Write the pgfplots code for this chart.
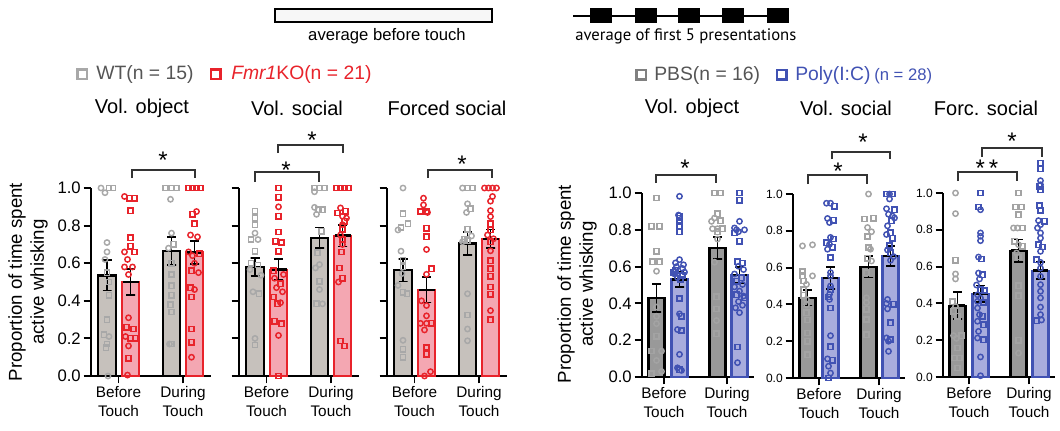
\documentclass[border=0pt]{standalone}
\usepackage{pgfplots}
\pgfplotsset{compat=1.18}
\usepackage{fontspec}
\setmainfont{Liberation Sans}
\newfontfamily\ptsans{PT Sans}
\definecolor{wtpt}{HTML}{A8A8A8}
\definecolor{wtbar}{HTML}{C6C1BC}
\definecolor{kored}{HTML}{E8232B}
\definecolor{kobar}{HTML}{F4A7B2}
\definecolor{pbsbar}{HTML}{999999}
\definecolor{pbspt}{HTML}{A3A3A3}
\definecolor{polyb}{HTML}{4152B3}
\definecolor{polybar}{HTML}{A8ACDD}
\definecolor{legtxt}{HTML}{555555}
\pgfplotsset{
 panel/.style={scale only axis, anchor=south west, ymin=0, ymax=1, xmin=0, clip=false, enlargelimits=false,
   axis x line=bottom, axis y line=left, axis line style={-, line width=1.4pt},
   tick style={line width=1.4pt, black}, tick align=outside, major tick length=5.5pt,
   ytick={0,0.2,0.4,0.6,0.8,1}, yticklabels={0.0,0.2,0.4,0.6,0.8,1.0},
   xticklabels={{Before\\Touch},{During\\Touch}},
   x tick label style={align=center, font=\fontsize{11.5}{14.5}\selectfont, inner sep=2pt},
   y tick label style={font=\fontsize{12.5}{14}\selectfont, inner sep=2pt}},
 lp/.style={panel, width=90pt, height=141pt, xmax=120, xtick={27.5,92}},
 rp/.style={panel, width=84pt, height=138pt, xmax=112, xtick={26,86}},
 barG/.style={ybar, bar shift=0pt, bar width=17.5, fill=wtbar, draw=black, line width=1.6pt},
 barR/.style={ybar, bar shift=0pt, bar width=17.5, fill=kobar, draw=kored, line width=1.6pt},
 barP/.style={ybar, bar shift=0pt, bar width=16, fill=pbsbar, draw=black, line width=1.6pt},
 barB/.style={ybar, bar shift=0pt, bar width=16, fill=polybar, draw=polyb, line width=1.6pt},
 pts/.style={scatter, only marks, scatter src=explicit symbolic, mark size=2pt, line width=1.1pt,
   scatter/classes={s={mark=square, draw=#1}, c={mark=o, draw=#1}}},
}
% error bar + mean line: x, mean, sem, half-width of mean line
\newcommand\eb[4]{%
 \pgfmathsetmacro\xa{#1-4.5}\pgfmathsetmacro\xb{#1+4.5}%
 \pgfmathsetmacro\lo{#2-#3}\pgfmathsetmacro\hi{#2+#3}%
 \pgfmathsetmacro\ma{#1-#4}\pgfmathsetmacro\mb{#1+#4}%
 \addplot[black, line width=1.4pt, mark=none, forget plot] coordinates {(\xa,\lo) (\xb,\lo) (#1,\lo) (#1,\hi) (\xa,\hi) (\xb,\hi)};
 \addplot[black, line width=1.8pt, mark=none, forget plot] coordinates {(\ma,#2) (\mb,#2)};
}
\begin{document}
\begin{tikzpicture}
\begin{scope}[x=0.75pt,y=-0.75pt]
\path[use as bounding box] (0,0) rectangle (1060,430);
\end{scope}

% ---------------- Panel 1 ----------------
\begin{axis}[lp, at={(91*0.75pt,-376*0.75pt)}]
\addplot[barG] coordinates {(16,0.535) (80.5,0.666)};
\addplot[barR] coordinates {(39.5,0.50) (103.5,0.657)};
\addplot[pts=wtpt] table[x expr=\thisrow{o}+16, y=y, meta=m] {
o y m
-6 1.0 c
-2 0.975 c
2 1.0 s
6 1.0 s
0 0.71 c
0 0.66 c
-2 0.62 c
0 0.55 s
2 0.50 s
2 0.43 s
0 0.30 s
-3 0.22 s
2 0.21 c
0 0.17 s
-1 0.15 s
1 0.0 c
};
\addplot[pts=kored] table[x expr=\thisrow{o}+39.5, y=y, meta=m] {
o y m
-6 0.955 c
-1 0.945 s
4 0.945 s
0 0.88 s
0 0.735 s
0 0.69 s
-6 0.66 c
4 0.66 s
-3 0.62 c
-6 0.58 c
2 0.58 c
-2 0.54 c
-2 0.31 c
-4 0.26 s
3 0.25 s
-5 0.21 c
0 0.20 s
5 0.20 s
-2 0.16 c
-2 0.094 s
-3 0.005 c
};
\addplot[pts=wtpt] table[x expr=\thisrow{o}+80.5, y=y, meta=m] {
o y m
-6 1.0 s
0 1.0 s
5 1.0 s
-1 0.94 c
0 0.76 c
2 0.70 s
-3 0.68 c
0 0.60 s
0 0.54 s
0 0.48 s
0 0.43 s
-1 0.38 s
0 0.34 s
-2 0.17 c
0 0.17 s
};
\addplot[pts=kored] table[x expr=\thisrow{o}+103.5, y=y, meta=m] {
o y m
-6 1.0 s
-2 1.0 s
2 1.0 s
6 1.0 s
2 0.875 c
-2 0.86 s
0 0.81 s
-4 0.75 c
3 0.74 c
-6 0.66 c
5 0.65 s
-2 0.64 c
0 0.60 c
-3 0.56 s
4 0.55 c
-4 0.47 s
0 0.46 c
-3 0.42 s
-3 0.25 s
-3 0.18 s
-3 0.10 c
};
\eb{16}{0.535}{0.08}{8}
\eb{39.5}{0.50}{0.07}{8}
\eb{80.5}{0.666}{0.074}{8}
\eb{103.5}{0.657}{0.06}{8}
\end{axis}

% ---------------- Panel 2 ----------------
\begin{axis}[lp, at={(239*0.75pt,-376*0.75pt)}, yticklabels={}]
\addplot[barG] coordinates {(16,0.579) (80.5,0.735)};
\addplot[barR] coordinates {(39.5,0.566) (103.5,0.747)};
\addplot[pts=wtpt] table[x expr=\thisrow{o}+16, y=y, meta=m] {
o y m
0 0.876 s
0 0.84 s
0 0.805 s
0 0.76 c
-4 0.726 s
3 0.726 c
0 0.664 s
-4 0.60 s
3 0.59 s
-5 0.566 c
6 0.536 c
-2 0.448 c
4 0.437 s
0 0.20 c
0 0.165 s
};
\addplot[pts=kored] table[x expr=\thisrow{o}+39.5, y=y, meta=m] {
o y m
0 1.0 s
0 0.95 s
0 0.90 c
0 0.85 s
0 0.766 s
-3 0.717 s
3 0.71 s
0 0.664 s
-5 0.56 s
5 0.54 c
-4 0.52 c
2 0.49 s
-2 0.47 c
4 0.448 c
-5 0.42 s
2 0.39 c
-1 0.384 s
-4 0.292 s
3 0.278 s
0 0.216 c
0 0.0 s
};
\addplot[pts=wtpt] table[x expr=\thisrow{o}+80.5, y=y, meta=m] {
o y m
-5 1.0 s
0 1.0 s
5 1.0 s
-5 0.98 c
-5 0.897 c
-1 0.885 s
3 0.885 s
-3 0.86 c
2 0.77 s
-2 0.655 s
0 0.593 c
-4 0.575 c
0 0.504 s
0 0.46 c
-3 0.384 s
3 0.384 c
};
\addplot[pts=kored] table[x expr=\thisrow{o}+103.5, y=y, meta=m] {
o y m
-6 1.0 s
-2 1.0 s
2 1.0 s
6 1.0 s
-2 0.894 c
3 0.876 s
-5 0.867 s
0 0.85 c
4 0.84 c
2 0.823 s
0 0.805 c
0 0.78 s
-2 0.75 c
0 0.726 s
0 0.70 c
-1 0.66 s
-3 0.575 s
0 0.52 s
-4 0.50 c
-2 0.186 s
2 0.16 s
};
\eb{16}{0.579}{0.047}{8}
\eb{39.5}{0.566}{0.057}{8}
\eb{80.5}{0.735}{0.055}{8}
\eb{103.5}{0.747}{0.058}{8}
\end{axis}

% ---------------- Panel 3 ----------------
\begin{axis}[lp, at={(387*0.75pt,-376*0.75pt)}, yticklabels={}]
\addplot[barG] coordinates {(16,0.5625) (80.5,0.705)};
\addplot[barR] coordinates {(39.5,0.459) (103.5,0.729)};
\addplot[pts=wtpt] table[x expr=\thisrow{o}+16, y=y, meta=m] {
o y m
0 1.0 c
0 0.863 s
5 0.81 s
-2 0.79 s
-5 0.777 c
-2 0.664 c
0 0.616 s
0 0.58 s
-1 0.545 c
-5 0.482 c
0 0.446 s
4 0.437 s
0 0.19 c
0 0.143 s
0 0.10 s
};
\addplot[pts=kored] table[x expr=\thisrow{o}+39.5, y=y, meta=m] {
o y m
-3 0.946 c
-3 0.91 c
-6 0.875 s
0 0.875 s
1 0.87 c
0 0.786 s
0 0.74 s
0 0.673 c
5 0.571 s
0 0.541 c
-5 0.40 c
0 0.375 c
0 0.32 c
-6 0.28 c
0 0.28 c
5 0.28 s
-2 0.245 c
0 0.152 s
0 0.116 s
4 0.023 c
-2 0.0 c
};
\addplot[pts=wtpt] table[x expr=\thisrow{o}+80.5, y=y, meta=m] {
o y m
-5 1.0 c
0 1.0 s
5 1.0 s
0 0.916 c
3 0.89 s
-1 0.87 c
0 0.78 s
4 0.745 c
-3 0.727 s
0 0.72 s
-5 0.714 c
0 0.4375 c
0 0.325 s
0 0.25 c
0 0.1875 c
};
\addplot[pts=kored] table[x expr=\thisrow{o}+103.5, y=y, meta=m] {
o y m
-6 1.0 c
-2 1.0 c
2 1.0 c
6 1.0 c
2 0.955 c
0 0.93 c
0 0.88 c
0 0.848 c
0 0.81 s
0 0.777 s
-3 0.75 c
3 0.73 c
0 0.714 s
0 0.666 c
0 0.6125 s
0 0.57 s
0 0.53 s
0 0.473 s
0 0.434 s
0 0.348 c
0 0.30 s
};
\eb{16}{0.5625}{0.06}{8}
\eb{39.5}{0.459}{0.068}{8}
\eb{80.5}{0.705}{0.06}{8}
\eb{103.5}{0.729}{0.05}{8}
\end{axis}

% ---------------- Panel 4 ----------------
\begin{axis}[rp, at={(642*0.75pt,-377*0.75pt)}, xtick={22,85}]
\addplot[barP] coordinates {(14.5,0.43) (75.5,0.70)};
\addplot[barB] coordinates {(37.5,0.53) (97.5,0.553)};
\addplot[pts=pbspt] table[x expr=\thisrow{o}+14.5, y=y, meta=m] {
o y m
0 0.973 s
-5 0.82 s
3 0.82 s
0 0.684 s
-4 0.626 s
3 0.626 s
0 0.575 c
0 0.38 c
0 0.33 c
0 0.29 c
0 0.222 s
-5 0.141 s
5 0.141 c
0 0.09 c
5 0.03 c
-5 0.018 s
};
\addplot[pts=polyb] table[x expr=\thisrow{o}+37.5, y=y, meta=m] {
o y m
0 0.982 c
-1 0.88 c
0 0.873 s
0 0.864 s
0 0.846 s
0 0.823 s
0 0.79 s
0 0.638 c
-4 0.62 c
4 0.61 c
-3 0.60 c
3 0.59 c
-4 0.58 s
5 0.57 c
-6 0.57 s
-5 0.56 c
3 0.55 s
-2 0.54 c
1 0.53 s
0 0.427 s
0 0.343 c
2 0.33 s
-2 0.258 c
2 0.253 s
0 0.123 c
-2 0.05 c
0 0.04 s
2 0.036 c
};
\addplot[pts=pbspt] table[x expr=\thisrow{o}+75.5, y=y, meta=m] {
o y m
-3 1.0 s
3 1.0 s
0 0.888 s
-3 0.864 c
3 0.85 s
-6 0.846 c
-5 0.806 c
0 0.806 c
5 0.806 s
0 0.79 s
0 0.75 c
-3 0.624 c
-1 0.436 s
-1 0.37 s
-1 0.307 c
-1 0.235 s
};
\addplot[pts=polyb] table[x expr=\thisrow{o}+97.5, y=y, meta=m] {
o y m
0 1.0 s
0 0.96 s
0 0.846 c
-5 0.81 c
5 0.80 c
-3 0.80 c
-1 0.79 c
-5 0.783 s
0 0.738 s
-2 0.626 s
3 0.62 s
-1 0.602 c
4 0.584 c
-5 0.56 c
2 0.539 s
-3 0.52 s
3 0.503 c
-5 0.49 c
0 0.467 c
-3 0.448 s
4 0.44 c
5 0.43 s
-1 0.41 c
3 0.39 c
-4 0.376 c
0 0.35 c
-2 0.163 s
-2 0.078 c
};
\eb{14.5}{0.43}{0.077}{7.5}
\eb{37.5}{0.53}{0.043}{7.5}
\eb{75.5}{0.70}{0.06}{7.5}
\eb{97.5}{0.553}{0.044}{7.5}
\end{axis}

% ---------------- Panel 5 ----------------
\begin{axis}[rp, at={(793*0.75pt,-378*0.75pt)}, y tick label style={font=\fontsize{9}{10}\selectfont}]
\addplot[barP] coordinates {(14.5,0.436) (75.5,0.604)};
\addplot[barB] coordinates {(37.5,0.542) (97.5,0.664)};
\addplot[pts=pbspt] table[x expr=\thisrow{o}+14.5, y=y, meta=m] {
o y m
-5 0.718 c
5 0.724 c
-5 0.578 s
-5 0.555 s
5 0.555 c
-4 0.527 s
-1 0.509 c
-4 0.48 s
-4 0.45 s
-1 0.427 c
-1 0.398 c
-1 0.354 s
0 0.315 s
0 0.245 s
0 0.20 s
0 0.127 s
};
\addplot[pts=polyb] table[x expr=\thisrow{o}+37.5, y=y, meta=m] {
o y m
-4 0.95 c
0 0.95 c
4 0.933 s
-3 0.867 c
3 0.858 s
-1 0.845 c
0 0.764 c
3 0.755 s
-4 0.736 s
-1 0.727 c
2 0.71 s
-3 0.70 c
0 0.655 s
0 0.573 c
0 0.555 c
0 0.50 c
0 0.48 s
-1 0.455 c
-2 0.44 s
-1 0.427 c
0 0.38 s
0 0.23 c
0 0.17 s
-3 0.104 c
2 0.096 s
-2 0.064 c
0 0.027 c
-2 0.0 s
};
\addplot[pts=pbspt] table[x expr=\thisrow{o}+75.5, y=y, meta=m] {
o y m
0 1.0 c
-4 0.864 s
5 0.869 s
-1 0.818 c
3 0.795 c
-1 0.769 s
0 0.709 s
2 0.70 c
-1 0.65 s
3 0.636 c
-2 0.573 s
-2 0.436 c
-2 0.41 c
-2 0.373 s
-2 0.318 s
-2 0.236 s
};
\addplot[pts=polyb] table[x expr=\thisrow{o}+97.5, y=y, meta=m] {
o y m
-4 1.0 s
2 1.0 s
-1 1.0 c
-1 0.973 c
-4 0.92 c
4 0.915 s
-2 0.89 c
2 0.88 c
4 0.87 c
1 0.855 s
-3 0.827 c
0 0.79 s
-4 0.78 c
2 0.76 s
-1 0.72 s
-3 0.696 c
0 0.68 s
3 0.66 c
0 0.64 c
-3 0.427 c
-4 0.405 c
3 0.40 s
-3 0.376 c
0 0.30 s
-4 0.218 c
0 0.209 s
-2 0.20 c
-2 0.145 c
};
\eb{14.5}{0.436}{0.042}{7.5}
\eb{37.5}{0.542}{0.06}{7.5}
\eb{75.5}{0.604}{0.058}{7.5}
\eb{97.5}{0.664}{0.053}{7.5}
\end{axis}

% ---------------- Panel 6 ----------------
\begin{axis}[rp, at={(943*0.75pt,-377*0.75pt)}, y tick label style={font=\fontsize{9}{10}\selectfont}]
\addplot[barP] coordinates {(14.5,0.388) (75.5,0.687)};
\addplot[barB] coordinates {(37.5,0.453) (97.5,0.578)};
\addplot[pts=pbspt] table[x expr=\thisrow{o}+14.5, y=y, meta=m] {
o y m
-2 1.0 c
-2 0.888 c
-2 0.634 s
-2 0.56 c
-2 0.533 c
-5 0.41 s
-2 0.384 c
-4 0.357 s
0 0.33 s
-4 0.225 c
4 0.225 s
-1 0.21 c
0 0.158 s
-3 0.103 s
2 0.103 s
0 0.049 s
};
\addplot[pts=polyb] table[x expr=\thisrow{o}+37.5, y=y, meta=m] {
o y m
0 1.0 s
-2 0.924 s
0 0.909 c
0 0.783 c
0 0.765 c
0 0.741 c
-2 0.652 c
1 0.641 s
-2 0.565 c
2 0.556 s
-1 0.533 c
-4 0.50 c
0 0.475 s
4 0.47 s
-3 0.447 c
0 0.429 c
-3 0.411 c
3 0.405 s
-3 0.375 c
-1 0.339 c
2 0.33 s
-3 0.303 c
3 0.284 s
-2 0.248 c
-3 0.212 c
3 0.203 s
0 0.109 c
0 0.007 c
};
\addplot[pts=pbspt] table[x expr=\thisrow{o}+75.5, y=y, meta=m] {
o y m
0 1.0 s
-3 0.924 s
3 0.924 s
0 0.882 s
-5 0.81 c
-1 0.81 c
4 0.81 s
-4 0.737 s
0 0.719 c
4 0.71 s
-2 0.674 c
0 0.652 s
0 0.496 s
0 0.442 s
0 0.20 s
0 0.13 c
};
\addplot[pts=polyb] table[x expr=\thisrow{o}+97.5, y=y, meta=m] {
o y m
0 1.163 s
0 1.13 s
0 1.067 c
0 1.045 c
-1 1.036 s
0 1.018 s
-1 0.93 s
0 0.906 s
-2 0.85 c
4 0.846 s
0 0.828 c
-3 0.81 c
0 0.783 c
0 0.755 c
-2 0.719 s
2 0.707 s
0 0.683 c
-4 0.638 s
0 0.623 c
0 0.592 c
0 0.547 c
0 0.502 c
0 0.466 c
0 0.43 c
0 0.38 c
0 0.339 c
1 0.31 c
-4 0.306 s
};
\eb{14.5}{0.388}{0.073}{7.5}
\eb{37.5}{0.453}{0.044}{7.5}
\eb{75.5}{0.687}{0.06}{7.5}
\eb{97.5}{0.578}{0.047}{7.5}
\end{axis}

% ---------------- Annotations ----------------
\begin{scope}[x=0.75pt,y=-0.75pt]
\tikzset{brk/.style={black!80, line width=0.8pt},
  st/.style={font=\fontsize{18}{18}\selectfont, inner sep=0pt},
  ttl/.style={font=\fontsize{15}{17}\selectfont, inner sep=0pt},
  leg/.style={font=\fontsize{14.5}{16}\selectfont, inner sep=0pt, anchor=west}}
% top schematic
\draw[line width=0.8pt, fill=black!3] (275,9) rectangle (492,22);
\node[font=\fontsize{12.5}{14}\selectfont, inner sep=0pt] at (387,36) {average before touch};
\draw[line width=1pt] (573,16) -- (788,16);
\foreach \a/\b in {590/612, 635/657, 678/700, 722/744, 767/789} \fill (\a,8) rectangle (\b,23);
\node[font=\ptsans\fontsize{12.5}{14}\selectfont, inner sep=0pt, anchor=west] at (575,36) {average of first 5 presentations};
% legends
\draw[wtpt, line width=1.6pt] (77.5,69.5) rectangle (87,79);
\node[leg, text=legtxt] at (96,74) {WT(n = 15)};
\draw[kored, line width=1.8pt] (211,69.5) rectangle (220.5,79);
\node[leg, text=kored] at (231,74) {\textit{Fmr1}KO(n = 21)};
\draw[black!50, line width=1.6pt] (636.5,70) rectangle (646,79.5);
\node[leg, text=legtxt] at (654,75) {PBS(n = 16)};
\draw[polyb, line width=1.8pt] (777,70) rectangle (786.5,79.5);
\node[leg, text=polyb] at (795,75) {Poly(I:C)};
\node[font=\fontsize{12.5}{14}\selectfont, inner sep=0pt, anchor=west, text=polyb] at (874,76) {(n = 28)};
% titles
\node[ttl] at (142,108) {Vol. object};
\node[ttl] at (297,108) {Vol. social};
\node[ttl] at (447,108) {Forced social};
\node[ttl] at (692,108) {Vol. object};
\node[ttl] at (846,108) {Vol. social};
\node[ttl] at (986,108) {Forc. social};
% y labels
\node[rotate=90, align=center, font=\fontsize{14}{16.5}\selectfont] at (28,282) {Proportion of time spent\\active whisking};
\node[rotate=90, align=center, font=\fontsize{14}{16.5}\selectfont] at (577,284) {Proportion of time spent\\active whisking};
% significance brackets
\draw[brk] (132,178) -- (132,170) -- (195,170) -- (195,178);
\node[st] at (163,160) {*};
\draw[brk] (255,182) -- (255,172) -- (319,172) -- (319,182);
\node[st] at (286,170) {*};
\draw[brk] (278,153) -- (278,145) -- (343,145) -- (343,153);
\node[st] at (312,140) {*};
\draw[brk] (428,178) -- (428,170) -- (492,170) -- (492,178);
\node[st] at (462,164) {*};
\draw[brk] (656,183) -- (656,175) -- (716,175) -- (716,183);
\node[st] at (685,168) {*};
\draw[brk] (808,184) -- (808,175) -- (867,175) -- (867,184);
\node[st] at (838,171) {*};
\draw[brk] (832,159) -- (832,152) -- (890,152) -- (890,159);
\node[st] at (863,142) {*};
\draw[brk] (958,181) -- (958,172) -- (1017,172) -- (1017,181);
\node[st] at (987,168) {*\,*};
\draw[brk] (982,157) -- (982,148) -- (1042,148) -- (1042,157);
\node[st] at (1012,141) {*};
\end{scope}
\end{tikzpicture}
\end{document}
